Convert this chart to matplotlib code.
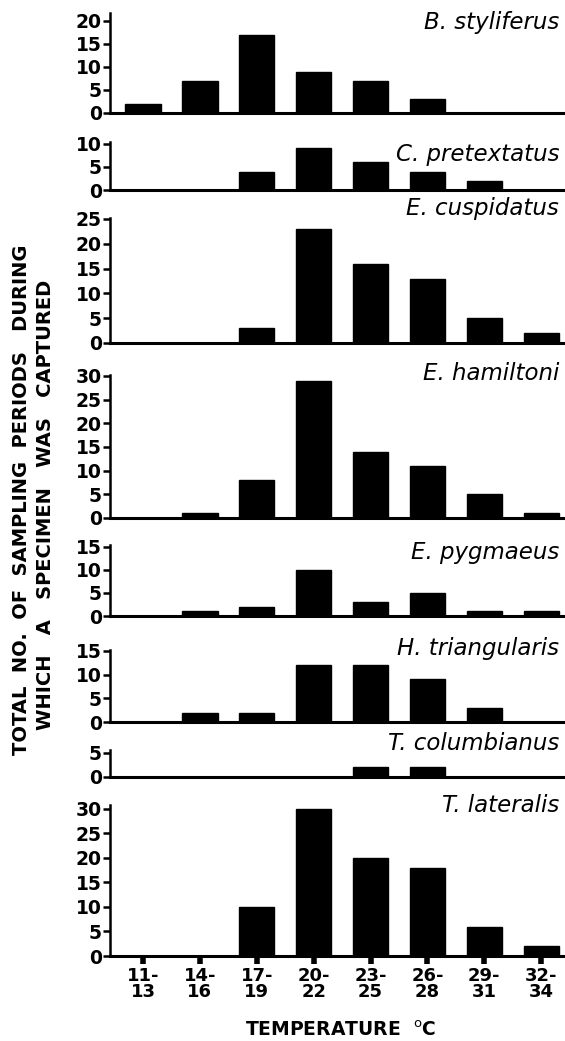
import numpy as np
import matplotlib.pyplot as plt


# Data
temp_ranges = ['11-\n13', '14-\n16', '17-\n19', '20-\n22',
               '23-\n25', '26-\n28', '29-\n31', '32-\n34']
species = ['B. styliferus', 'C. pretextatus', 'E. cuspidatus', 'E. hamiltoni',
           'E. pygmaeus', 'H. triangularis', 'T. columbianus', 'T. lateralis']

b_styliferus = [2, 7, 17, 9, 7, 3, 0, 0]
c_pretextatus = [0, 0, 4, 9, 6, 4, 2, 0]
e_cuspidatus = [0, 0, 3, 23, 16, 13, 5, 2]
e_hamiltoni = [0, 1, 8, 29, 14, 11, 5, 1]
e_pygmaeus = [0, 1, 2, 10, 3, 5, 1, 1]
h_triangularis = [0, 2, 2, 12, 12, 9, 3, 0]
t_columbianus = [0, 0, 0, 0, 2, 2, 0, 0]
t_lateralis = [0, 0, 10, 30, 20, 18, 6, 2]

counts = [b_styliferus, c_pretextatus, e_cuspidatus, e_hamiltoni,
          e_pygmaeus, h_triangularis, t_columbianus, t_lateralis]
yticks = [[0, 5, 10, 15, 20], [0, 5, 10], [0, 5, 10, 15, 20, 25],
          [0, 5, 10, 15, 20, 25, 30], [0, 5, 10, 15], [0, 5, 10, 15],
          [0, 5], [0, 5, 10, 15, 20, 25, 30]]


#%% Layout (pixels in a 565 x 1041 figure)
W, H = 565, 1041
# zero line, top of axis, y max of axis
panels = [(113, 13, 21.7), (190, 142, 10.4), (343, 218, 25.2), (518, 375, 30.2),
          (616, 545, 15.4), (722, 650, 15.2), (777, 750, 5.6), (956, 805, 30.8)]
label_y = [22, 155, 208, 373, 553, 649, 744, 805]
ax_left, ax_right = 110, 564

fig = plt.figure(figsize=(W / 100, H / 100), dpi=100)
x = np.arange(len(temp_ranges))

for i, (zero, top, ymax) in enumerate(panels):
    ax = fig.add_axes([ax_left / W, 1 - zero / H, (ax_right - ax_left) / W, (zero - top) / H])
    ax.bar(x, counts[i], width=0.62, color='black', edgecolor='black', zorder=3)
    ax.set_xlim(-0.58, 7.4)
    ax.set_ylim(0, ymax)
    ax.set_yticks(yticks[i])
    ax.set_yticklabels([str(v) for v in yticks[i]], fontsize=13.5, fontweight='bold')
    for s in ['top', 'right']:
        ax.spines[s].set_visible(False)
    ax.spines['left'].set_linewidth(1.8)
    ax.spines['bottom'].set_linewidth(2.2)
    ax.tick_params(axis='y', direction='out', length=5, width=1.8, pad=1)
    ax.patch.set_alpha(0)
    if i == len(panels) - 1:
        ax.set_xticks(x)
        ax.set_xticklabels(temp_ranges, fontsize=13, fontweight='bold', linespacing=0.85)
        ax.tick_params(axis='x', direction='out', length=6, width=4, pad=2)
    else:
        ax.tick_params(axis='x', bottom=False, labelbottom=False)
    fig.text(559 / W, 1 - label_y[i] / H, species[i], ha='right', va='center',
             style='italic', fontsize=16.5)


# Axis titles
fig.text(22 / W, 1 - 500 / H, 'TOTAL  NO.  OF  SAMPLING  PERIODS   DURING', rotation=90,
         ha='center', va='center', fontsize=14, fontweight='bold')
fig.text(46 / W, 1 - 505 / H, 'WHICH   A   SPECIMEN   WAS   CAPTURED', rotation=90,
         ha='center', va='center', fontsize=14, fontweight='bold')
fig.text(341 / W, 1 - 1030 / H, 'TEMPERATURE  $^{\\mathsf{o}}$C', ha='center', va='center',
         fontsize=13.5, fontweight='bold')

fig.savefig('out.png', dpi=100)
